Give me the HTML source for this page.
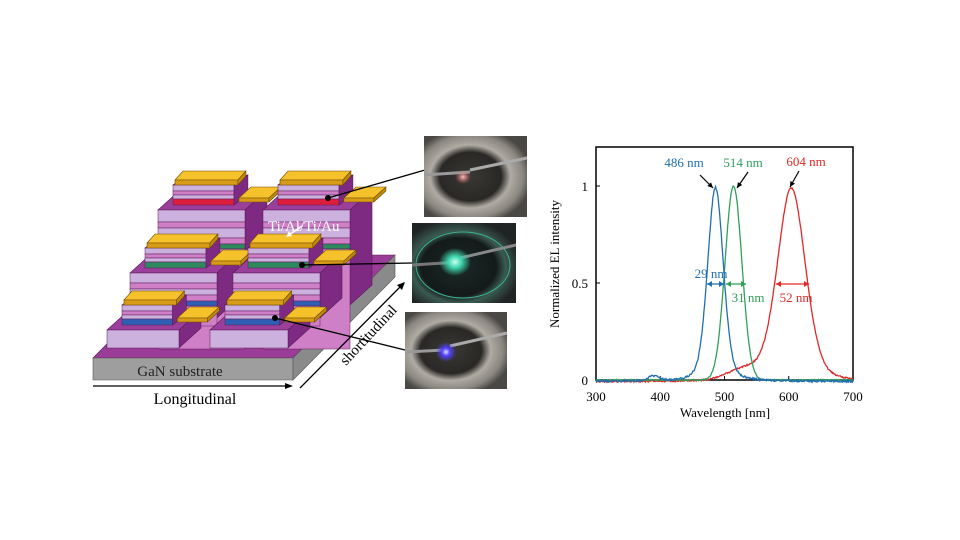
<!DOCTYPE html>
<html><head><meta charset="utf-8"><style>
html,body{margin:0;padding:0;background:#fff;width:960px;height:540px;overflow:hidden}
svg{position:absolute;left:0;top:0}
text{font-family:"Liberation Serif",serif}
</style></head><body>
<svg id="s" width="960" height="540" viewBox="0 0 960 540" xmlns="http://www.w3.org/2000/svg">
<defs>
<radialGradient id="p1" cx="0.45" cy="0.5" r="0.6"><stop offset="0" stop-color="#3a3834"/><stop offset="0.5" stop-color="#2a2826"/><stop offset="0.65" stop-color="#b0aca4"/><stop offset="0.85" stop-color="#8a8680"/><stop offset="1" stop-color="#4a4844"/></radialGradient>
<radialGradient id="p2" cx="0.45" cy="0.55" r="0.6"><stop offset="0" stop-color="#1a2a26"/><stop offset="0.6" stop-color="#141a1a"/><stop offset="0.75" stop-color="#3a5a50"/><stop offset="1" stop-color="#202424"/></radialGradient>
<radialGradient id="g1" cx="0.5" cy="0.5" r="0.5"><stop offset="0" stop-color="#d0fff0"/><stop offset="0.4" stop-color="#40d8b0"/><stop offset="1" stop-color="#40d8b0" stop-opacity="0"/></radialGradient>
<radialGradient id="r1" cx="0.5" cy="0.5" r="0.5"><stop offset="0" stop-color="#ffc0c0"/><stop offset="1" stop-color="#e06060" stop-opacity="0"/></radialGradient>
<radialGradient id="b1" cx="0.5" cy="0.5" r="0.5"><stop offset="0" stop-color="#e0e0ff"/><stop offset="0.4" stop-color="#5040ff"/><stop offset="1" stop-color="#5040ff" stop-opacity="0"/></radialGradient>
</defs>
<g id="dev"></g>
<g id="ph">
<rect x="424" y="136" width="103" height="81" fill="url(#p1)"/>
<line x1="424" y1="175" x2="470" y2="172" stroke="#999" stroke-width="3"/><line x1="470" y1="170" x2="527" y2="158" stroke="#aaa" stroke-width="3"/>
<ellipse cx="463" cy="177" rx="8" ry="7" fill="url(#r1)"/>
<rect x="412" y="223" width="104" height="80" fill="url(#p2)"/>
<ellipse cx="463" cy="265" rx="47" ry="33" fill="none" stroke="#3bb090" stroke-width="1"/>
<line x1="412" y1="265" x2="460" y2="262" stroke="#777" stroke-width="3"/><line x1="460" y1="258" x2="516" y2="245" stroke="#888" stroke-width="3"/>
<ellipse cx="455" cy="262" rx="16" ry="14" fill="url(#g1)"/>
<rect x="405" y="312" width="102" height="77" fill="url(#p1)"/>
<line x1="405" y1="352" x2="445" y2="350" stroke="#999" stroke-width="3"/><line x1="450" y1="346" x2="507" y2="333" stroke="#aaa" stroke-width="3"/>
<ellipse cx="446" cy="352" rx="10" ry="10" fill="url(#b1)"/>
</g>
<g id="chart"></g>
</svg>
<script>
var NS="http://www.w3.org/2000/svg";
function el(p,t,a,txt){var e=document.createElementNS(NS,t);for(var k in a)e.setAttribute(k,a[k]);if(txt!==undefined)e.textContent=txt;p.appendChild(e);return e;}
var dev=document.getElementById('dev');
function poly(pts,fill,stroke){return el(dev,'polygon',{points:pts.map(function(p){return p[0]+','+p[1]}).join(' '),fill:fill,stroke:stroke||'#5a1a5a','stroke-width':0.6});}
poly([[93,358],[293,358],[395,255],[195,255]],'#9a3c98');
poly([[93,358],[293,358],[293,380],[93,380]],'#9e9e9e','#555');
poly([[293,358],[395,255],[395,277],[293,380]],'#8a8a8a','#555');
var PUR='#9b3f9b',PURD='#7e2a82',LAV='#ccb0de',PINK='#cf7fc6',GOLD='#f6c22c',GOLDD='#d89b17';
function box(x,y,w,h,dx,dy,front){
  poly([[x,y-h],[x+w,y-h],[x+w+dx,y-h+dy],[x+dx,y-h+dy]],PUR);
  poly([[x+w,y],[x+w,y-h],[x+w+dx,y-h+dy],[x+w+dx,y+dy]],PURD);
  front(x,y,w,h);
}
function stripes(bands){return function(x,y,w,h){var t=y-h;bands.forEach(function(b){el(dev,'rect',{x:x,y:t,width:w,height:b[0],fill:b[1],stroke:'#5a1a5a','stroke-width':0.5});t+=b[0];});};}
function pad(x,y,w,t,dx,dy){poly([[x,y-t],[x+w,y-t],[x+w+dx,y-t+dy],[x+dx,y-t+dy]],GOLD,'#6a4a00');poly([[x,y],[x+w,y],[x+w,y-t],[x,y-t]],GOLDD,'#6a4a00');poly([[x+w,y],[x+w,y-t],[x+w+dx,y-t+dy],[x+w+dx,y+dy]],'#c08a10','#6a4a00');}
function unit(ox,oy,w,H,col,baseBands){
  box(ox,oy,w,H,22,-20,stripes(baseBands));
  var mx=ox+15,my=oy-H-5,mw=w*0.7;
  box(mx,my,mw,20,14,-10,stripes([[6,LAV],[4,PINK],[4,LAV],[6,col]]));
  pad(mx+2,my-20,mw+2,5,8,-9);
  pad(mx+mw+5,my-3,30,4,12,-11);
}
var R='#dc1e3c',G='#2c8a5c',B='#2f5fb4';
function big(c){return [[12,LAV],[6,PINK],[10,LAV],[6,PINK],[5,c],[100,PINK]];}
unit(158,305,87,95,R,big(G));
unit(263,305,87,95,R,big(G));
unit(130,318,87,45,G,[[10,LAV],[6,PINK],[6,LAV],[6,PINK],[5,B],[20,PINK]]);
unit(233,318,87,45,G,[[10,LAV],[6,PINK],[6,LAV],[6,PINK],[5,B],[20,PINK]]);
unit(107,348,72,18,B,[[18,LAV]]);
unit(210,348,78,18,B,[[18,LAV]]);
el(dev,'text',{x:268,y:231,fill:'#fff','font-size':15},'Ti/Al/Ti/Au');
el(dev,'line',{x1:302,y1:226,x2:289,y2:235,stroke:'#fff','stroke-width':1.5});
el(dev,'polygon',{points:'286,237 289,231 292,236',fill:'#fff'});
[[328,198,425,170],[302,265,412,263],[275,318,405,350]].forEach(function(l){el(dev,'line',{x1:l[0],y1:l[1],x2:l[2],y2:l[3],stroke:'#000','stroke-width':1.3});el(dev,'circle',{cx:l[0],cy:l[1],r:3,fill:'#000'});});
el(dev,'text',{x:180,y:376,'font-size':15,'text-anchor':'middle',fill:'#222'},'GaN substrate');
el(dev,'line',{x1:93,y1:386,x2:288,y2:386,stroke:'#000','stroke-width':1.3});
el(dev,'polygon',{points:'293,386 285,383 285,389',fill:'#000'});
el(dev,'text',{x:195,y:404,'font-size':16,'text-anchor':'middle'},'Longitudinal');
el(dev,'line',{x1:300,y1:388,x2:401,y2:286,stroke:'#000','stroke-width':1.3});
el(dev,'polygon',{points:'405,282 397,285 402,290',fill:'#000'});
el(dev,'text',{x:0,y:0,'font-size':15,transform:'translate(346,366) rotate(-47)'},'shortitudinal');
var ch=document.getElementById('chart');
var X0=596,X1=853,Y0=380,Y1=186;
function px(w){return X0+(w-300)/400*(X1-X0);} function py(v){return Y0-v*(Y0-Y1);}
el(ch,'rect',{x:X0,y:147,width:X1-X0,height:Y0-147,fill:'none',stroke:'#000','stroke-width':1.5});
[300,400,500,600,700].forEach(function(w){el(ch,'text',{x:px(w),y:401,'font-size':13,'text-anchor':'middle'},String(w));if(w>300&&w<700)el(ch,'line',{x1:px(w),y1:Y0,x2:px(w),y2:Y0-4,stroke:'#000'});});
[[0,'0'],[0.5,'0.5'],[1,'1']].forEach(function(t){el(ch,'text',{x:588,y:py(t[0])+5,'font-size':13,'text-anchor':'end'},t[1]);el(ch,'line',{x1:X0,y1:py(t[0]),x2:X0+4,y2:py(t[0]),stroke:'#000'});});
el(ch,'text',{x:0,y:0,'font-size':13,'text-anchor':'middle',transform:'translate(559,264) rotate(-90)'},'Normalized EL intensity');
el(ch,'text',{x:725,y:417,'font-size':13,'text-anchor':'middle'},'Wavelength [nm]');
function pv(x,c,f){var g=Math.exp(-4*Math.LN2*Math.pow((x-c)/f,2));var l=1/(1+4*Math.pow((x-c)/f,2));return 0.75*g+0.25*l;}
var seed=1;function rnd(){seed=(seed*16807)%2147483647;return seed/2147483647-0.5;}
function curve(fn,col,noise){var d='';for(var w=300;w<=700;w+=1){var v=fn(w)+noise*rnd();d+=(w==300?'M':'L')+px(w).toFixed(1)+','+py(v).toFixed(1);}el(ch,'path',{d:d,fill:'none',stroke:col,'stroke-width':1.3});}
curve(function(w){return pv(w,604,52)+0.05*Math.exp(-Math.pow((w-530)/35,2))-0.01;},'#e02828',0.008);
curve(function(w){return Math.exp(-4*Math.LN2*Math.pow((w-514)/31,2));},'#2fa05a',0.006);
curve(function(w){return pv(w,486,29)+0.025*Math.exp(-Math.pow((w-390)/12,2))-0.008;},'#1f6fb0',0.01);
function ann(x,y,t,c){el(ch,'text',{x:x,y:y,'font-size':13,fill:c,'text-anchor':'middle'},t);}
ann(684,167,'486 nm','#1f6fb0');ann(743,167,'514 nm','#2fa05a');ann(806,166,'604 nm','#e02828');
function arr(x1,y1,x2,y2){el(ch,'line',{x1:x1,y1:y1,x2:x2,y2:y2,stroke:'#000','stroke-width':1.2});var a=Math.atan2(y2-y1,x2-x1),s=6;el(ch,'polygon',{points:x2+','+y2+' '+(x2-s*Math.cos(a-0.45))+','+(y2-s*Math.sin(a-0.45))+' '+(x2-s*Math.cos(a+0.45))+','+(y2-s*Math.sin(a+0.45)),fill:'#000'});}
arr(700,175,713,188);arr(748,172,737,188);arr(799,171,790,187);
function dbl(a,b,y,c){el(ch,'line',{x1:a,y1:y,x2:b,y2:y,stroke:c,'stroke-width':1.2});el(ch,'polygon',{points:a+','+y+' '+(a+5)+','+(y-3)+' '+(a+5)+','+(y+3),fill:c});el(ch,'polygon',{points:b+','+y+' '+(b-5)+','+(y-3)+' '+(b-5)+','+(y+3),fill:c});}
dbl(707,724,284,'#1f6fb0');dbl(726,746,284,'#2fa05a');dbl(776,809,284,'#e02828');
ann(711,278,'29 nm','#1f6fb0');ann(748,302,'31 nm','#2fa05a');ann(796,302,'52 nm','#e02828');
</script>
</body></html>
